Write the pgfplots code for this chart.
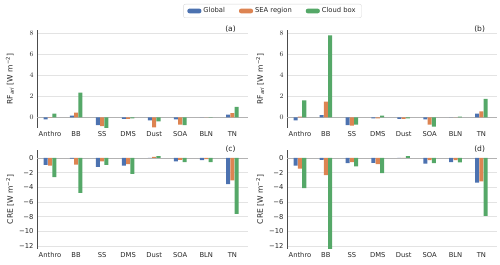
\documentclass[border=0pt]{standalone}
\usepackage{pgfplots}
\pgfplotsset{compat=1.18}
\usepackage{pgfplotstable}
\usepackage{fontspec}
\setmainfont{DejaVu Sans}
\definecolor{cblue}{HTML}{4C72B0}
\definecolor{corange}{HTML}{DD8452}
\definecolor{cgreen}{HTML}{55A868}

% cat: 0 Anthro,1 BB,2 SS,3 DMS,4 Dust,5 SOA,6 BLN,7 TN
\pgfplotstableread{
cat g s c
0 -0.20 0.02 0.35
1 0.15 0.45 2.35
2 -0.75 -0.85 -1.05
3 -0.15 -0.15 -0.10
4 -0.30 -0.95 -0.40
5 -0.20 -0.70 -0.75
6 0.00 0.00 0.02
7 0.25 0.40 1.00
}\tabA
\pgfplotstableread{
cat g s c
0 -0.30 0.05 1.60
1 0.20 1.50 7.80
2 -0.75 -0.80 -0.70
3 -0.10 -0.10 0.15
4 -0.15 -0.15 -0.10
5 -0.20 -0.70 -0.90
6 0.00 0.00 0.05
7 0.35 0.55 1.75
}\tabB
\pgfplotstableread{
cat g s c
0 -0.95 -1.05 -2.60
1 -0.10 -0.90 -4.75
2 -1.20 -0.45 -0.95
3 -1.05 -0.85 -2.15
4 0.00 0.15 0.25
5 -0.45 -0.25 -0.55
6 -0.30 -0.15 -0.55
7 -3.55 -3.05 -7.60
}\tabC
\pgfplotstableread{
cat g s c
0 -1.05 -1.45 -4.10
1 -0.25 -2.35 -12.60
2 -0.70 -0.55 -1.15
3 -0.65 -0.85 -2.05
4 0.00 0.00 0.25
5 -0.78 -0.30 -0.70
6 -0.55 -0.30 -0.60
7 -3.35 -3.20 -7.90
}\tabD

\newcommand{\fnt}{\fontsize{6.8}{8}\selectfont}
\newcommand{\lfnt}{\fontsize{7.6}{9}\selectfont}
\pgfplotsset{
  panel/.style={
    scale only axis, width=211bp,
    xmin=-0.5, xmax=7.6,
    xtick={0,...,7},
    xticklabels={Anthro,BB,SS,DMS,Dust,SOA,BLN,TN},
    ymajorgrids, major grid style={gray!22, line width=0.6pt},
    major tick length=0pt,
    axis lines=left, axis line style={-},
    x axis line style={draw=none},
    y axis line style={black!70, line width=0.8pt},
    tick label style={font=\fnt, text=black!85},
    label style={font=\lfnt, text=black!85},
    ylabel style={at={(axis description cs:-0.128,0.5)}, anchor=center},
    clip mode=individual,
  },
  toppanel/.style={height=98bp, ymin=-1.02, ymax=8.3, ytick={0,2,4,6,8},
    ylabel={RF\textsubscript{\textit{ari}} [W m\textsuperscript{−2}]}},
  botpanel/.style={height=99bp, ymin=-12.4, ymax=1.09, ytick={-12,-10,-8,-6,-4,-2,0},
    yticklabels={−12,−10,−8,−6,−4,−2,0},
    ylabel={CRE [W m\textsuperscript{−2}]}},
}
\newcommand{\bars}[1]{%
  \draw[gray!60, line width=0.8pt] (axis cs:-0.5,0) -- (axis cs:7.6,0);
  \addplot[ybar, bar width=0.155, bar shift=-0.165, fill=cblue, draw=none] table[x=cat,y=g]{#1};
  \addplot[ybar, bar width=0.155, bar shift=0, fill=corange, draw=none] table[x=cat,y=s]{#1};
  \addplot[ybar, bar width=0.155, bar shift=0.165, fill=cgreen, draw=none] table[x=cat,y=c]{#1};
}

\begin{document}
\begin{tikzpicture}
\useasboundingbox (0,0) rectangle (500bp,265bp);
\begin{axis}[panel, toppanel, at={(37bp,137bp)}, anchor=south west,
  legend style={at={(1.116,1.194)}, anchor=center, legend columns=3,
    draw=gray!30, rounded corners=2pt, font=\fnt, text=black!85,
    inner xsep=4bp, inner ysep=1.5bp,
    /tikz/every even column/.append style={column sep=12bp}},
  legend image code/.code={\fill[#1] (0bp,-2.3bp) rectangle (14bp,2.3bp);}]
\bars{\tabA}
\addlegendentry{Global}
\addlegendentry{SEA region}
\addlegendentry{Cloud box}
\node[font=\lfnt, text=black!85] at (axis cs:6.93,8.3) [yshift=1bp] {(a)};
\end{axis}
\begin{axis}[panel, toppanel, at={(287bp,137bp)}, anchor=south west, width=210bp]
\bars{\tabB}
\node[font=\lfnt, text=black!85] at (axis cs:6.93,8.3) [yshift=1bp] {(b)};
\end{axis}
\begin{axis}[panel, botpanel, at={(37bp,16bp)}, anchor=south west]
\bars{\tabC}
\node[font=\lfnt, text=black!85] at (axis cs:6.93,1.09) [yshift=1bp] {(c)};
\end{axis}
\begin{axis}[panel, botpanel, at={(287bp,16bp)}, anchor=south west, width=210bp]
\bars{\tabD}
\node[font=\lfnt, text=black!85] at (axis cs:6.93,1.09) [yshift=1bp] {(d)};
\end{axis}
\end{tikzpicture}
\end{document}
